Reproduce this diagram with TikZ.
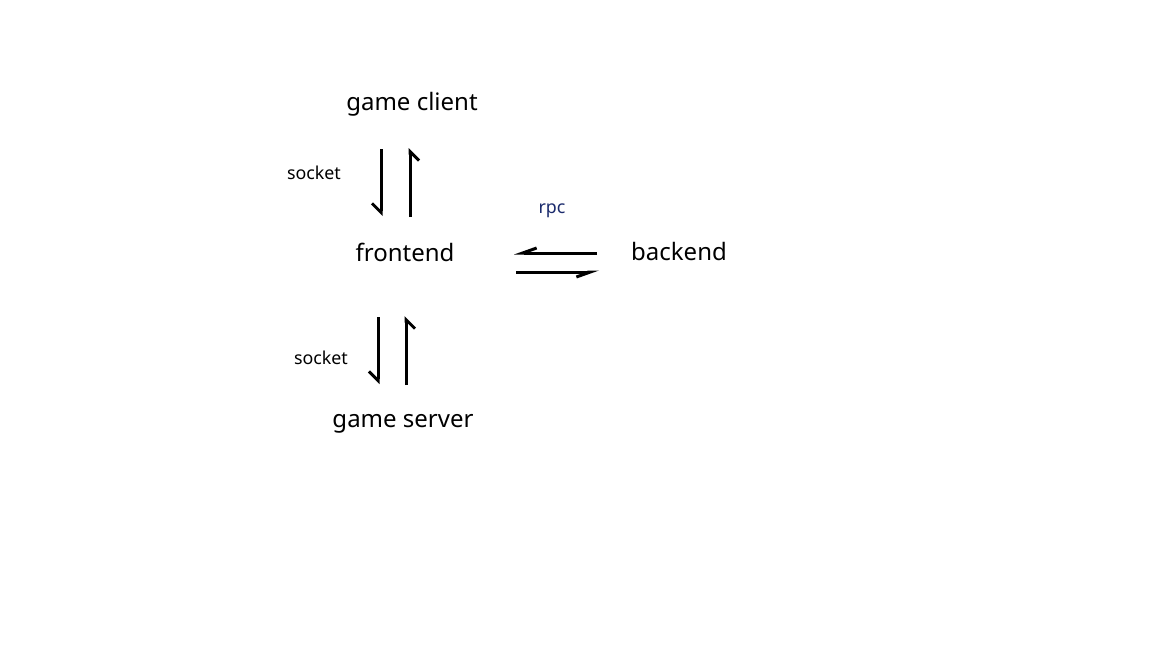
\documentclass[tikz,border=0pt]{standalone}
\usepackage{fontspec}
\setmainfont{Noto Sans}
\usetikzlibrary{arrows.meta}
\definecolor{navy}{HTML}{1A2A6C}
\begin{document}
\begin{tikzpicture}[x=1pt,y=-1pt,
  lbl/.style={font=\fontsize{24}{28}\selectfont, inner sep=0pt, anchor=center},
  small/.style={font=\fontsize{17.8}{20}\selectfont, inner sep=0pt, anchor=center},
  vharp/.style={line width=3pt, -{Straight Barb[harpoon,swap,length=9pt,width=18pt,line width=3pt]}},
  hharp/.style={line width=3pt, -{Straight Barb[harpoon,swap,length=14pt,width=10pt,line width=3pt]}}]
\useasboundingbox (0,0) rectangle (1152,648);
\node[lbl] (client) at (412,104) {game client};
\node[lbl] (front) at (405,252) {frontend};
\node[lbl] (back) at (679,251) {backend};
\node[lbl] (server) at (403,424) {game server};
\node[small] (s1) at (314,173) {socket};
\node[small] (s2) at (321,358) {socket};
\node[small,text=navy] (rpc) at (552,211) {rpc};
\coordinate (a1) at (381,149);
\coordinate (a2) at (381,216);
\coordinate (b1) at (410,217);
\coordinate (b2) at (410,148);
\coordinate (c1) at (378,317);
\coordinate (c2) at (378,384);
\coordinate (d1) at (406,385);
\coordinate (d2) at (406,316);
\coordinate (e1) at (597,253);
\coordinate (e2) at (514,253);
\coordinate (f1) at (516,272);
\coordinate (f2) at (599,272);
\draw[vharp] (a1) -- (a2);
\draw[vharp] (b1) -- (b2);
\draw[vharp] (c1) -- (c2);
\draw[vharp] (d1) -- (d2);
\draw[hharp] (e1) -- (e2);
\draw[hharp] (f1) -- (f2);
\end{tikzpicture}
\end{document}
